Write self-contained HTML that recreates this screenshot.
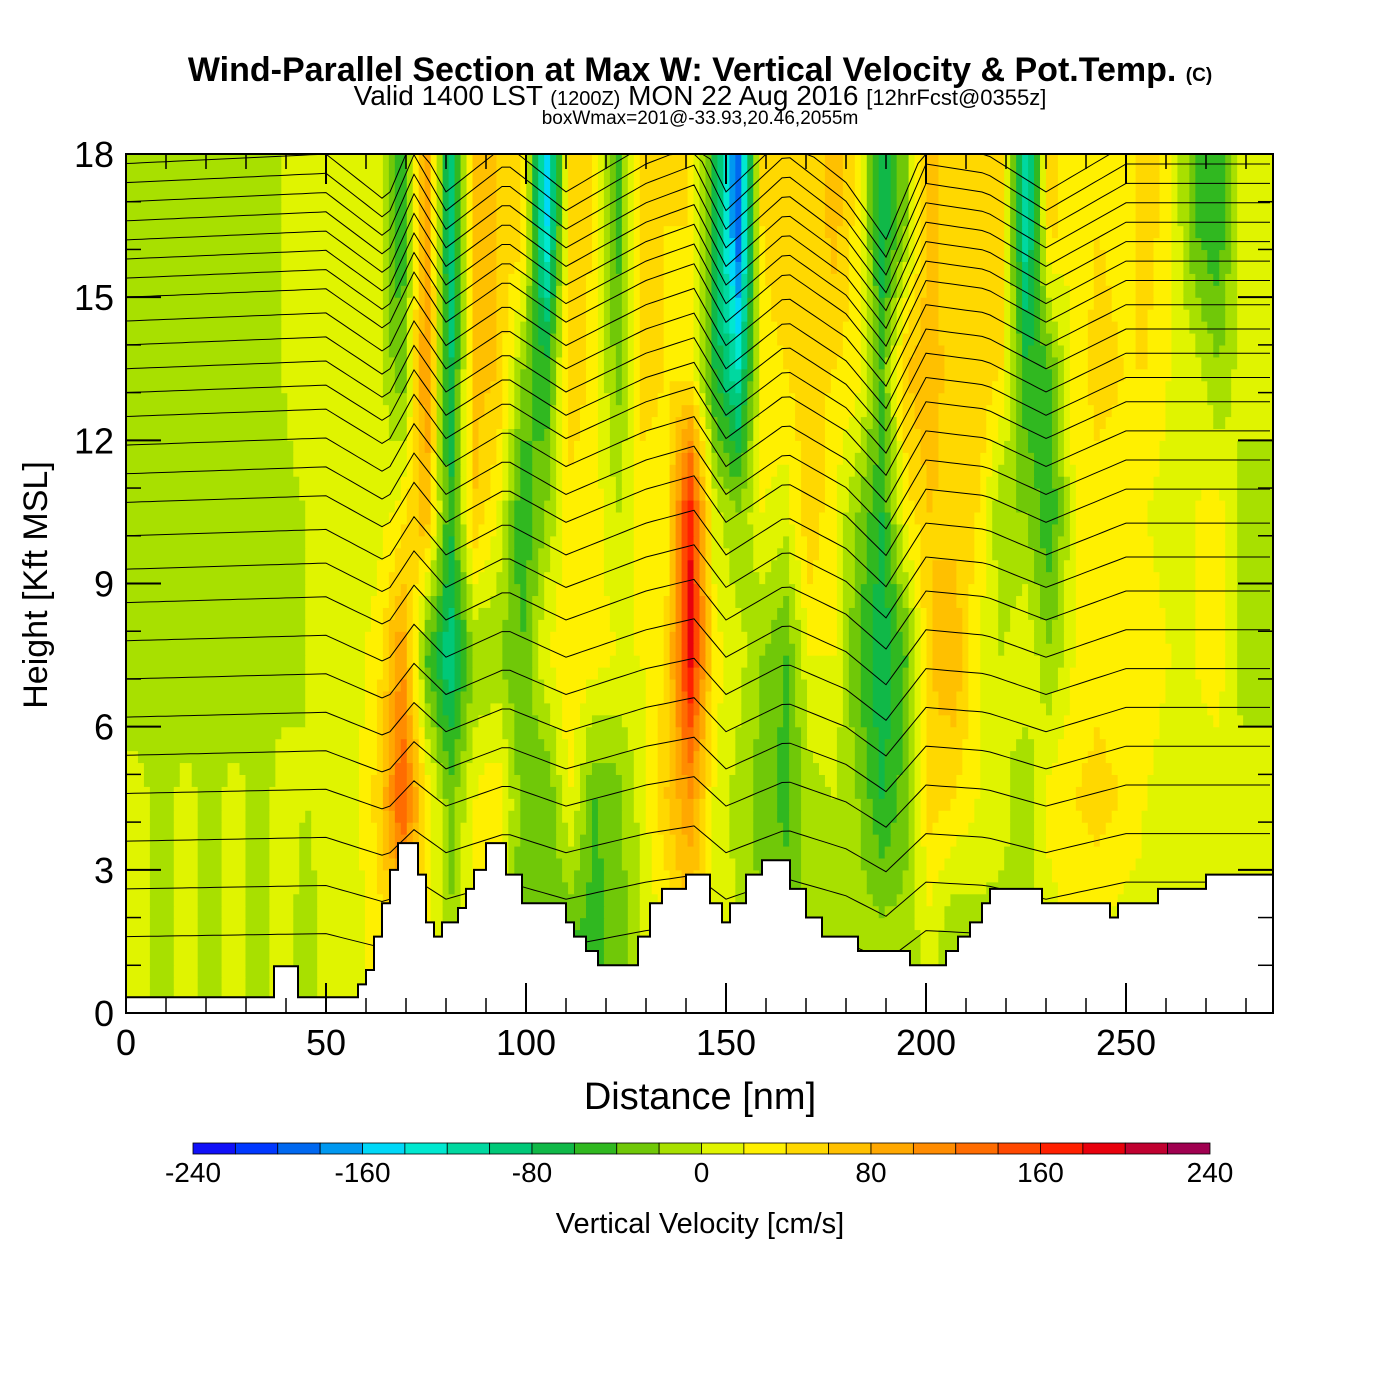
<!DOCTYPE html>
<html><head><meta charset="utf-8"><style>
body{margin:0;background:#fff}
svg{display:block;font-family:"Liberation Sans",sans-serif}
</style></head><body>
<svg id="chart" width="1400" height="1400" viewBox="0 0 1400 1400">
<rect width="1400" height="1400" fill="#fff"/>
<text x="700" y="81" text-anchor="middle" font-size="34" font-weight="bold">Wind-Parallel Section at Max W: Vertical Velocity &amp; Pot.Temp. <tspan font-size="19">(C)</tspan></text>
<text x="700" y="105" text-anchor="middle" font-size="28">Valid 1400 LST <tspan font-size="20">(1200Z)</tspan> MON 22 Aug 2016 <tspan font-size="22">[12hrFcst@0355z]</tspan></text>
<text x="700" y="124" text-anchor="middle" font-size="19">boxWmax=201@-33.93,20.46,2055m</text>
<g id="field"></g>
<g id="contours"></g>
<g id="terrain"></g>
<g id="axes"></g>
<g id="cbar"></g>
<text x="700" y="1109" text-anchor="middle" font-size="38">Distance [nm]</text>
<text transform="translate(47,585) rotate(-90)" text-anchor="middle" font-size="34">Height [Kft MSL]</text>
<text x="700" y="1233" text-anchor="middle" font-size="29">Vertical Velocity [cm/s]</text>
</svg>
<script>
// ---- data ----
const colNm = [3,9,15,21,27,33,39,45,51,57,63,69,75,81,87,93,99,105,111,117,123,129,135,141,147,153,159,165,171,177,183,189,195,201,207,213,219,225,231,237,243,249,255,261,267,273,279,285];
const rowKft = [16.5,13.5,10.5,7.5,4.5,1.5];
const w165 = [-10,-10,-10,-10,-10,-10,0,10,10,10,10,-60,100,-100,60,60,50,-150,50,40,-50,60,40,40,-60,-200,40,60,40,70,30,-80,-20,70,40,60,50,-120,50,20,40,30,50,30,-40,-60,20,10];
const w135 = [-10,-10,-10,-10,-10,-10,0,10,10,10,10,-40,110,-90,70,60,-20,-60,60,30,-30,50,40,30,-60,-120,30,40,50,40,30,-40,60,80,40,60,40,-60,-40,30,50,40,40,20,10,-20,10,10];
const w105 = [-10,-10,-10,-10,-10,-10,-5,0,10,10,10,30,80,-60,60,20,-60,-20,30,30,0,30,30,180,10,-20,20,10,60,20,-20,-60,30,60,50,40,-20,-20,-60,20,30,30,20,10,20,30,-10,-10];
const w75 = [-10,-10,-10,-10,-10,-10,-5,0,10,10,30,100,-40,-100,-20,-20,-40,20,40,30,20,20,40,190,30,10,-20,-40,20,20,-40,-80,-40,60,80,20,0,20,-20,20,30,20,30,20,20,30,-10,-10];
const w45 = [5,-5,5,-5,5,-5,5,0,5,10,50,150,40,-30,20,40,-30,-40,20,-40,-30,10,60,100,20,-10,-30,-50,-10,0,-20,-60,-30,50,40,20,10,-20,30,40,50,40,20,10,10,10,10,10];
const w15 = [5,-5,5,-5,5,-5,5,-5,5,10,30,50,30,-20,30,20,-40,-40,-40,-50,-30,0,20,50,20,0,-20,-20,-20,-20,-10,-10,-10,10,-20,-10,-10,0,10,20,20,10,10,10,10,10,10,10];
const levels = [-240,-220,-200,-180,-160,-140,-120,-100,-80,-60,-40,-20,0,20,40,60,80,100,120,140,160,180,200,220,240];
const colors = ["#1010f8","#0038ff","#0068f0","#0098f0","#00d8f8","#00e8d0","#00d8a0","#00c878","#10b848","#30b820","#70c808","#a8e000","#e0f400","#fff000","#ffd800","#ffc000","#ffa800","#ff8c00","#ff6c00","#ff4800","#ff2000","#e8000c","#c00030","#a00050"];
const cbTicks = [-240,-160,-80,0,80,160,240];
const terrNm = [0,37,43,58,60,62,64,66,68,73,75,77,79,83,85,87,90,95,99,110,112,115,118,128,131,134,140,146,149,151,155,159,166,170,174,183,196,205,208,211,214,216,229,246,248,258,270,287];
const terrKft = [0.33,0.98,0.33,0.6,0.9,1.6,2.3,3.0,3.56,2.9,1.9,1.6,1.9,2.2,2.6,3.0,3.56,2.9,2.3,1.9,1.6,1.3,1.0,1.6,2.3,2.6,2.9,2.3,1.9,2.3,2.9,3.2,2.6,2.0,1.6,1.3,1.0,1.3,1.6,1.9,2.3,2.6,2.3,2.0,2.3,2.6,2.9,2.9];
const thetaBase = [1.6,2.6,3.6,4.6,5.4,6.2,7.0,7.8,8.6,9.3,10.0,10.7,11.3,11.9,12.5,13.0,13.5,14.0,14.5,15.0,15.4,15.8,16.2,16.6,17.0,17.4,17.8];
const thetaProfNm = [0,50,65,72,80,95,110,130,142,150,165,180,190,200,215,230,250,287];
const thetaProf = [0,0.1,-0.4,0.3,-0.3,0.2,-0.3,0.2,0.4,-0.3,0.3,-0.2,-0.8,0.2,0.1,-0.3,0.2,0.2];
// ---- axes ----
const X0=126,X1=1273,Y0=1013,Y1=154;
const XMAX=286.75;
const xs = nm => X0 + nm*(X1-X0)/XMAX;
const ys = k => Y0 - k*(Y0-Y1)/18;
const NS="http://www.w3.org/2000/svg";
function mk(t,a,p){const e=document.createElementNS(NS,t);for(const k in a)e.setAttribute(k,a[k]);p.appendChild(e);return e;}
function colorOf(v){let i=Math.floor((v+240)/20);i=Math.max(0,Math.min(23,i));return colors[i];}
function interp(xa,ya,x){if(x<=xa[0])return ya[0];for(let i=1;i<xa.length;i++){if(x<=xa[i]){const t=(x-xa[i-1])/(xa[i]-xa[i-1]);return ya[i-1]+t*(ya[i]-ya[i-1]);}}return ya[ya.length-1];}
const rows=[w165,w135,w105,w75,w45,w15];
const rowAsc=[...rowKft].reverse();
function wAt(nm,k){
  const vals=rows.map(r=>interp(colNm,r,nm)).reverse();
  return interp(rowAsc,vals,k);
}
const field=document.getElementById('field');
const NX=192, NY=72;
const dn=XMAX/NX, dk=18/NY;
for(let j=0;j<NY;j++){
  const k=j*dk;
  let start=0,cur=null;
  for(let i=0;i<=NX;i++){
    const n=i*dn;
    const c=i<NX?colorOf(wAt(n+dn/2,k+dk/2)):null;
    if(c!==cur){
      if(cur){const r=mk('rect',{x:xs(start),y:ys(k+dk),width:xs(n)-xs(start)+0.6,height:ys(k)-ys(k+dk)+0.6,fill:cur},field);
        
        }
      start=n;cur=c;
    }
  }
}
// theta contours
const cg=document.getElementById('contours');
thetaBase.forEach((b,i)=>{
  let d='';
  for(let n=0;n<=287;n+=2){
    const amp=interp(thetaProfNm,thetaProf,n)*(0.5+b/12);
    let k=Math.min(18,b+amp);
    d+=(n?'L':'M')+xs(Math.min(n,XMAX)).toFixed(1)+' '+ys(k).toFixed(1);
  }
  const p=mk('path',{d:d,fill:'none',stroke:'#000','stroke-width':1},cg);
  
  
});
// terrain
const tg=document.getElementById('terrain');
let td='M'+xs(0)+' '+ys(0);
for(let i=0;i<terrNm.length;i++){
  const x=xs(terrNm[i]),y=ys(terrKft[i]);
  td+=' L'+x+' '+y;
  const nx=i+1<terrNm.length?xs(terrNm[i+1]):X1;
  td+=' L'+nx+' '+y;
}
td+=' L'+X1+' '+ys(0)+' Z';
const tp=mk('path',{d:td,fill:'#fff',stroke:'#000','stroke-width':2},tg);


// axes
const ax=document.getElementById('axes');
const fr=mk('rect',{x:X0,y:Y1,width:X1-X0,height:Y0-Y1,fill:'none',stroke:'#000','stroke-width':2},ax);


for(let n=0;n<=280;n+=10){
  const L=n%50===0?30:15;
  mk('line',{x1:xs(n),x2:xs(n),y1:Y0,y2:Y0-L,stroke:'#000','stroke-width':n%50===0?2:1.5},ax);
  mk('line',{x1:xs(n),x2:xs(n),y1:Y1,y2:Y1+L,stroke:'#000','stroke-width':n%50===0?2:1.5},ax);
  if(n%50===0){const t=mk('text',{x:xs(n),y:1055,'text-anchor':'middle','font-size':36},ax);t.textContent=n;
    
    }
}
for(let k=0;k<=18;k++){
  const L=k%3===0?35:15;
  mk('line',{x1:X0,x2:X0+L,y1:ys(k),y2:ys(k),stroke:'#000','stroke-width':k%3===0?2:1.5},ax);
  mk('line',{x1:X1,x2:X1-L,y1:ys(k),y2:ys(k),stroke:'#000','stroke-width':k%3===0?2:1.5},ax);
  if(k%3===0){const t=mk('text',{x:114,y:ys(k)+13,'text-anchor':'end','font-size':36},ax);t.textContent=k;
    
    }
}
// colorbar
const cb=document.getElementById('cbar');
const CX0=193,CX1=1210,CY=1143,CH=11;
const cbx=v=>CX0+(v+240)*(CX1-CX0)/480;
for(let i=0;i<24;i++){
  const r=mk('rect',{x:cbx(levels[i]),y:CY,width:cbx(levels[i+1])-cbx(levels[i]),height:CH,fill:colors[i],stroke:'#000','stroke-width':0.8},cb);
  
  
}
cbTicks.forEach(v=>{const t=mk('text',{x:cbx(v),y:1182,'text-anchor':'middle','font-size':28},cb);t.textContent=v;
  
  });
</script>
</body></html>
